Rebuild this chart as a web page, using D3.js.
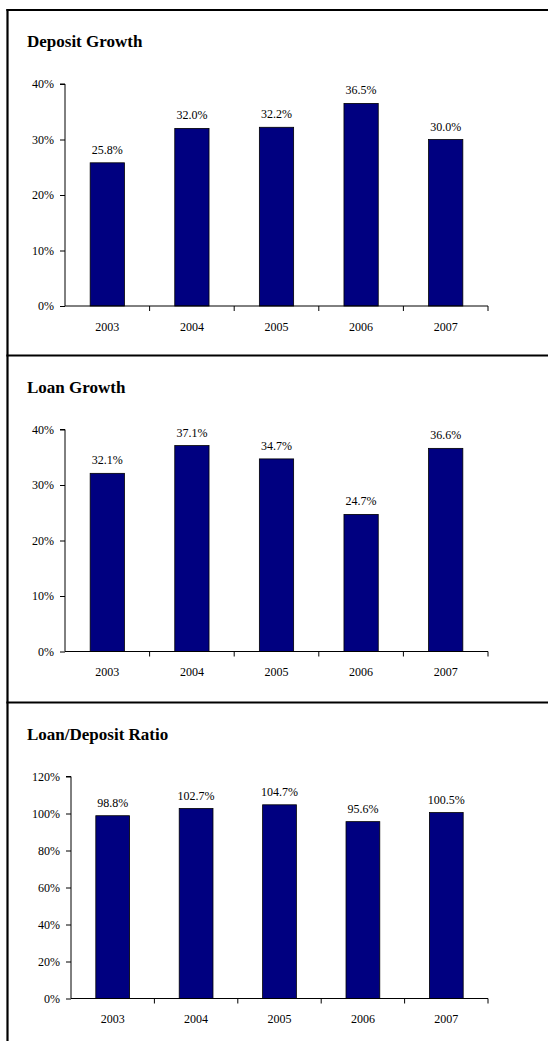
<!DOCTYPE html>
<html>
<head>
<meta charset="utf-8">
<script src="https://cdn.jsdelivr.net/npm/d3@7"></script>
<style>
  html, body { margin: 0; padding: 0; background: #fff; }
  svg { display: block; }
  text { font-family: "Liberation Serif", "Times New Roman", serif; fill: #000; }
</style>
</head>
<body>
<svg id="chart" width="548" height="1041"></svg>
<script>
// Years shown on every panel
const years = ["2003", "2004", "2005", "2006", "2007"];

// Panel series (percent)
const depositGrowth = [25.8, 32.0, 32.2, 36.5, 30.0];
const loanGrowth = [32.1, 37.1, 34.7, 24.7, 36.6];
const loanDepositRatio = [98.8, 102.7, 104.7, 95.6, 100.5];

// Panel titles and y tick values
const titles = ["Deposit Growth", "Loan Growth", "Loan/Deposit Ratio"];
const growthTicks = [0, 10, 20, 30, 40];
const ratioTicks = [0, 20, 40, 60, 80, 100, 120];

const panels = [
  { title: titles[0], values: depositGrowth, ticks: growthTicks, max: 40, top: 10, axisX: 65 },
  { title: titles[1], values: loanGrowth, ticks: growthTicks, max: 40, top: 355.5, axisX: 65 },
  { title: titles[2], values: loanDepositRatio, ticks: ratioTicks, max: 120, top: 702.5, axisX: 71 }
];

const svg = d3.select("#chart");
const barColor = "#000080";
const axisRight = 488;

panels.forEach(p => {
  const g = svg.append("g");
  const y0 = p.top + 296;
  const y1 = p.top + 74;

  g.append("text")
    .attr("x", 27)
    .attr("y", p.top + 37)
    .attr("font-size", 17)
    .attr("font-weight", "bold")
    .text(p.title);

  const x = d3.scaleBand().domain(years).range([p.axisX, axisRight]).padding(0);
  const y = d3.scaleLinear().domain([0, p.max]).range([y0, y1]);
  const barW = x.step() * 0.405;

  // Bars
  g.selectAll("rect.bar")
    .data(p.values)
    .join("rect")
    .attr("class", "bar")
    .attr("x", (d, i) => x(years[i]) + x.bandwidth() / 2 - barW / 2)
    .attr("y", d => y(d))
    .attr("width", barW)
    .attr("height", d => y(0) - y(d))
    .attr("fill", barColor)
    .attr("stroke", "#000")
    .attr("stroke-width", 0.8);

  // Value labels
  g.selectAll("text.val")
    .data(p.values)
    .join("text")
    .attr("class", "val")
    .attr("x", (d, i) => x(years[i]) + x.bandwidth() / 2)
    .attr("y", d => y(d) - 9)
    .attr("text-anchor", "middle")
    .attr("font-size", 12)
    .text(d => d.toFixed(1) + "%");

  // Y axis
  const yAxis = d3.axisLeft(y)
    .tickValues(p.ticks)
    .tickSize(5)
    .tickPadding(6)
    .tickFormat(d => d + "%");
  const ya = g.append("g").attr("transform", `translate(${p.axisX},0)`).call(yAxis);
  ya.select(".domain").attr("stroke", "#000").attr("d", `M-5,${y1}H0V${y0}`);
  ya.selectAll("line").attr("stroke", "#000");
  ya.selectAll("text").attr("font-size", 12).attr("font-family", "Liberation Serif, serif").attr("fill", "#000");

  // X axis: labels centered on bands, tick marks on band edges
  const xAxis = d3.axisBottom(x).tickSize(0).tickPadding(16);
  const xa = g.append("g").attr("transform", `translate(0,${y0})`).call(xAxis);
  xa.select(".domain").attr("stroke", "#000").attr("d", `M${p.axisX},0H${axisRight}`);
  xa.selectAll("text").attr("font-size", 12).attr("font-family", "Liberation Serif, serif").attr("fill", "#000");
  const edges = years.map(d => x(d) + x.step()).filter(v => v > p.axisX);
  g.selectAll("line.xtick")
    .data(edges)
    .join("line")
    .attr("class", "xtick")
    .attr("x1", d => d).attr("x2", d => d)
    .attr("y1", y0).attr("y2", y0 + 5)
    .attr("stroke", "#000");
});

// Frame: left edge, top edge and panel dividers
const frame = svg.append("g").attr("stroke", "#000").attr("stroke-width", 2.2);
frame.append("line").attr("x1", 7.5).attr("x2", 7.5).attr("y1", 9).attr("y2", 1041);
panels.forEach(p => {
  frame.append("line").attr("x1", 6.4).attr("x2", 548).attr("y1", p.top).attr("y2", p.top);
});
</script>
</body>
</html>
